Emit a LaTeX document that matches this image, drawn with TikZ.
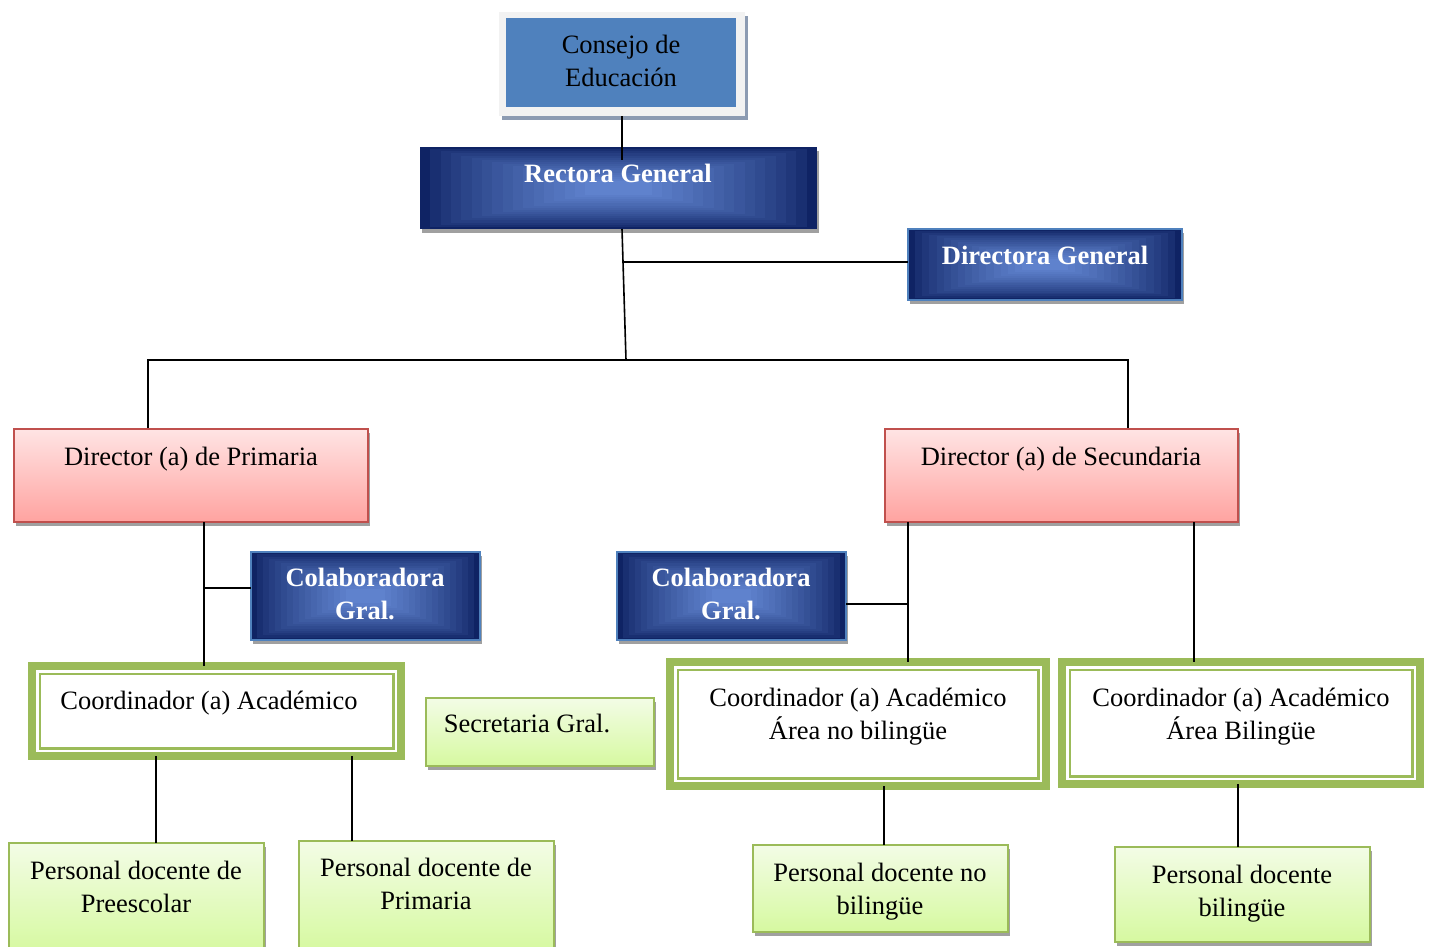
\documentclass[tikz,border=0pt]{standalone}
\usepackage{fontspec}
\setmainfont{Liberation Serif}
\usetikzlibrary{shadows,calc}
\definecolor{consFrame}{RGB}{242,242,242}
\definecolor{consBlue}{RGB}{79,129,189}
\definecolor{consShadow}{RGB}{140,155,178}
\definecolor{navyD}{RGB}{15,35,100}
\definecolor{navyL}{RGB}{95,130,205}
\definecolor{blueBorder}{RGB}{79,129,189}
\definecolor{pinkT}{RGB}{255,228,228}
\definecolor{pinkB}{RGB}{255,163,160}
\definecolor{pinkBorder}{RGB}{192,80,77}
\definecolor{greenT}{RGB}{243,252,230}
\definecolor{greenB}{RGB}{214,249,160}
\definecolor{greenBorder}{RGB}{155,187,89}
\definecolor{shadowGray}{RGB}{160,160,160}
\tikzset{
  conn/.style={draw=black, line width=1.6pt},
  boxbase/.style={rectangle, inner sep=0pt, outer sep=0pt, anchor=north west},
  gshadow/.style={drop shadow={shadow xshift=1.5pt, shadow yshift=-4pt, fill=shadowGray, opacity=1}},
  navyfill/.style={fill=navyD, path picture={
      \foreach \i in {1,...,16}{
        \pgfmathsetmacro\p{100*(\i/16)^0.75}
        \fill[navyL!\p!navyD]
          ($(path picture bounding box.south west)!{0.026*\i}!(path picture bounding box.north east)$)
          rectangle
          ($(path picture bounding box.north east)!{0.026*\i}!(path picture bounding box.south west)$);
      }}},
  consframe/.style={boxbase, fill=consFrame,
      drop shadow={shadow xshift=2.5pt, shadow yshift=-3.5pt, fill=consShadow, opacity=1},
      path picture={\fill[consBlue]
        ($(path picture bounding box.south west)+(7pt,9pt)$) rectangle
        ($(path picture bounding box.north east)+(-9pt,-6pt)$);}},
  navybox/.style={boxbase, navyfill, gshadow},
  navybord/.style={boxbase, navyfill, gshadow, draw=blueBorder, line width=1.5pt},
  pinkbox/.style={boxbase, top color=pinkT, bottom color=pinkB, draw=pinkBorder, line width=1.6pt, gshadow},
  greenbox/.style={boxbase, top color=greenT, bottom color=greenB, draw=greenBorder, line width=1.5pt, gshadow},
  coordbox/.style={boxbase, fill=white, draw=greenBorder, line width=8pt,
      path picture={\draw[greenBorder, line width=2.2pt]
        ($(path picture bounding box.south west)+(7.6pt,7.6pt)$) rectangle
        ($(path picture bounding box.north east)+(-7.6pt,-7.6pt)$);}},
  txt/.style={font=\fontsize{26.5}{33}\selectfont, align=center, inner sep=0pt, text=black},
  btxt/.style={font=\fontsize{26.5}{33}\selectfont\bfseries, align=center, inner sep=0pt, text=white},
}
\begin{document}
\begin{tikzpicture}[x=1pt,y=-1pt]
\useasboundingbox (0,0) rectangle (1429,946);
\fill[white] (0,0) rectangle (1429,946);

% coordinates for connector junctions
\coordinate (hub) at (626,360);
\coordinate (jD) at (623,262);
\coordinate (pL) at (148,428);
\coordinate (pR) at (1128,428);
\coordinate (jP) at (204,588);
\coordinate (jS) at (908,604);

% boxes
\node[consframe, minimum width=246pt, minimum height=104pt] (cons) at (499,12) {};
\node[navybox, minimum width=397pt, minimum height=82pt] (rec) at (420,147) {};
\node[navybord, minimum width=274pt, minimum height=71pt] (dir) at (908,229) {};
\node[pinkbox, minimum width=354pt, minimum height=93pt] (dp) at (14,429) {};
\node[pinkbox, minimum width=353pt, minimum height=93pt] (ds) at (885,429) {};
\node[navybord, minimum width=229pt, minimum height=88pt] (col1) at (251,552) {};
\node[navybord, minimum width=229pt, minimum height=88pt] (col2) at (617,552) {};
\node[coordbox, minimum width=369pt, minimum height=90pt] (ca1) at (32,666) {};
\node[greenbox, minimum width=228pt, minimum height=68pt] (sec) at (426,698) {};
\node[coordbox, minimum width=376pt, minimum height=124pt] (ca2) at (670,662) {};
\node[coordbox, minimum width=358pt, minimum height=122pt] (ca3) at (1062,662) {};
\node[greenbox, minimum width=255pt, minimum height=110pt] (pp1) at (9,843) {};
\node[greenbox, minimum width=255pt, minimum height=110pt] (pp2) at (299,841) {};
\node[greenbox, minimum width=255pt, minimum height=87pt] (pp3) at (753,845) {};
\node[greenbox, minimum width=255pt, minimum height=95pt] (pp4) at (1115,847) {};

% connectors
\draw[conn] (cons.south -| 622,0) -- ($(rec.north -| 622,0)+(0,-13pt)$);
\draw[conn] (rec.south -| 622,0) -- (hub);
\draw[conn] (jD) -- (jD -| dir.west);
\draw[conn] (pL) |- (hub) -| (pR);
\draw[conn] (dp.south -| 204,0) -- (ca1.north -| 204,0);
\draw[conn] (jP) -- (jP -| col1.west);
\draw[conn] (ds.south -| 908,0) -- (ca2.north -| 908,0);
\draw[conn] (jS) -- (jS -| col2.east);
\draw[conn] (ds.south -| 1194,0) -- (ca3.north -| 1194,0);
\draw[conn] (ca1.south -| 156,0) -- (pp1.north -| 156,0);
\draw[conn] (ca1.south -| 352,0) -- (pp2.north -| 352,0);
\draw[conn] (ca2.south -| 884,0) -- (pp3.north -| 884,0);
\draw[conn] (ca3.south -| 1238,0) -- (pp4.north -| 1238,0);

% texts
\node[txt] (tcons) at (621,61) {Consejo de\\Educación};
\node[btxt, anchor=base] (trec) at (618,182) {Rectora General};
\node[btxt, anchor=base] (tdir) at (1045,264) {Directora General};
\node[txt, anchor=base] (tdp) at (191,465) {Director (a) de Primaria};
\node[txt, anchor=base] (tds) at (1061,465) {Director (a) de Secundaria};
\node[btxt] (tcol1) at (365,594) {Colaboradora\\Gral.};
\node[btxt] (tcol2) at (731,594) {Colaboradora\\Gral.};
\node[txt, anchor=base] (tca1) at (209,709) {Coordinador (a) Académico};
\node[txt, anchor=base] (tsec) at (527,732) {Secretaria Gral.};
\node[txt] (tca2) at (858,717) {Coordinador (a) Académico\\Área no bilingüe};
\node[txt] (tca3) at (1241,717) {Coordinador (a) Académico\\Área Bilingüe};
\node[txt] (tpp1) at (136,886.5) {Personal docente de\\Preescolar};
\node[txt] (tpp2) at (426,884) {Personal docente de\\Primaria};
\node[txt] (tpp3) at (880,891.5) {Personal docente no\\bilingüe};
\node[txt] (tpp4) at (1242,893.5) {Personal docente\\bilingüe};
\end{tikzpicture}
\end{document}
